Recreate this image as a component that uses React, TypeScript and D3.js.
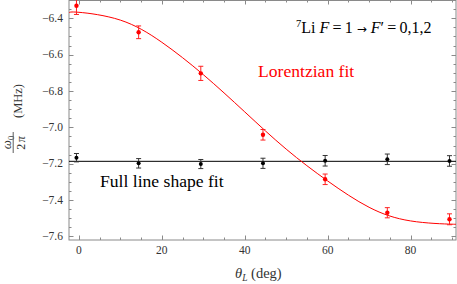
import React from "react";
import * as d3 from "d3";

const angles = [-0.6, 14.4, 29.4, 44.4, 59.4, 74.4, 89.4];
const lorentzValues = [-6.331, -6.477, -6.703, -7.041, -7.286, -7.47, -7.506];
const lorentzErrors = [0.048, 0.035, 0.039, 0.029, 0.029, 0.028, 0.03];
const fullValues = [-7.167, -7.198, -7.202, -7.198, -7.184, -7.176, -7.185];
const fullErrors = [0.023, 0.026, 0.025, 0.028, 0.029, 0.029, 0.029];
const fullFitValue = -7.187;
const fitAngles = [-2.4, 0, 10, 20, 30, 40, 50, 60, 70, 80, 90, 91];
const fitValues = [-6.37, -6.367, -6.41, -6.532, -6.71, -6.915, -7.12, -7.295, -7.44, -7.515, -7.533, -7.533];
const xTicks = [0, 20, 40, 60, 80];
const yTicks = [-6.4, -6.6, -6.8, -7.0, -7.2, -7.4, -7.6];

const W = 457, H = 284;
const L = 69, R = 456, T = 0, B = 240;
const FRAME = "#8a8a8a";
const LABEL = "#333";
const SERIF = "'Liberation Serif', 'Times New Roman', serif";
const serif = { fontFamily: SERIF };

export default function App() {
  const x = d3.scaleLinear().domain([-2.4, 90.97]).range([L, R]);
  const y = d3.scaleLinear().domain([-7.62, -6.2993]).range([B, T]);
  const xMinor = d3.range(0, 91, 5);
  const yMinor = d3.range(-7.6, -6.29, 0.05);
  const line = d3
    .line<number>()
    .x((_, i) => x(fitAngles[i]))
    .y((d) => y(d))
    .curve(d3.curveNatural);
  const fmt = (v: number) => (v < 0 ? "\u2212" : "") + Math.abs(v).toFixed(1);

  const points = (vals: number[], errs: number[], color: string, barColor: string, r: number) =>
    vals.map((v, i) => {
      const cx = x(angles[i]);
      const y1 = y(v + errs[i]);
      const y2 = y(v - errs[i]);
      return (
        <g key={i}>
          <line x1={cx} x2={cx} y1={y1} y2={y2} stroke={barColor} strokeWidth={1} />
          <line x1={cx - 2.5} x2={cx + 2.5} y1={y1} y2={y1} stroke={barColor} strokeWidth={1} />
          <line x1={cx - 2.5} x2={cx + 2.5} y1={y2} y2={y2} stroke={barColor} strokeWidth={1} />
          <circle cx={cx} cy={y(v)} r={r} fill={color} />
        </g>
      );
    });

  return (
    <svg width={W} height={H} style={{ position: "absolute", left: 0, top: 0, background: "#fff", fontFamily: SERIF }}>
      <defs>
        <clipPath id="plotclip">
          <rect x={L} y={T} width={R - L} height={B - T} />
        </clipPath>
      </defs>
      <rect x={0} y={0} width={W} height={H} fill="#fff" />
      {/* frame */}
      <rect x={L} y={T + 0.5} width={R - L} height={B - T - 0.5} fill="none" stroke={FRAME} strokeWidth={1} />
      {/* ticks */}
      {xMinor.map((t) => {
        const major = t % 20 === 0;
        const len = major ? 4.5 : 2.5;
        const px = Math.round(x(t)) + 0.5;
        return (
          <g key={"xt" + t}>
            <line x1={px} x2={px} y1={B} y2={B - len} stroke={FRAME} />
            <line x1={px} x2={px} y1={T} y2={T + len} stroke={FRAME} />
          </g>
        );
      })}
      {yMinor.map((t, i) => {
        const major = i % 4 === 0;
        const len = major ? 4.5 : 2.5;
        const py = Math.round(y(t)) + 0.5;
        return (
          <g key={"yt" + i}>
            <line x1={L} x2={L + len} y1={py} y2={py} stroke={FRAME} />
            <line x1={R} x2={R - len} y1={py} y2={py} stroke={FRAME} />
          </g>
        );
      })}
      {xTicks.map((t) => (
        <text key={"xl" + t} x={x(t)} y={254} fontSize={11.5} textAnchor="middle" fill={LABEL} style={serif}>
          {t}
        </text>
      ))}
      {yTicks.map((t) => (
        <text key={"yl" + t} x={63} y={y(t) + 3.8} fontSize={11.5} textAnchor="end" fill={LABEL} style={serif}>
          {fmt(t)}
        </text>
      ))}
      {/* data */}
      <g clipPath="url(#plotclip)">
        <line x1={L} x2={R} y1={y(fullFitValue)} y2={y(fullFitValue)} stroke="#000" strokeWidth={1} />
        <path d={line(fitValues) || ""} fill="none" stroke="#ff0000" strokeWidth={1} />
        {points(fullValues, fullErrors, "#000", "#333", 2)}
        {points(lorentzValues, lorentzErrors, "#ff0000", "#ff2020", 2.2)}
      </g>
      {/* annotations */}
      <text x={296} y={33} fontSize={16} fill="#000" style={serif}>
        <tspan fontSize={10.5} dy={-6.5}>7</tspan>
        <tspan dy={6.5}>Li </tspan>
        <tspan fontStyle="italic">F</tspan>
        <tspan>{"\u2009=\u20091 "}</tspan>
        <tspan style={{ fontFamily: "'DejaVu Sans', sans-serif" }} fontSize={12}>{"\u2192"}</tspan>
        <tspan> </tspan>
        <tspan fontStyle="italic">F</tspan>
        <tspan>{"\u2032\u2009=\u20090,1,2"}</tspan>
      </text>
      <text x={258} y={77} fontSize={17.6} fill="#ff0000" style={serif}>Lorentzian fit</text>
      <text x={100} y={187} fontSize={17.6} fill="#000" style={serif}>Full line shape fit</text>
      {/* x label */}
      <text x={235} y={278} fontSize={14.5} fill={LABEL} style={serif}>
        <tspan fontStyle="italic">θ</tspan>
        <tspan fontSize={9.5} fontStyle="italic" dy={3}>L</tspan>
        <tspan dy={-3}> (deg)</tspan>
      </text>
      {/* y label */}
      <g transform="rotate(-90)" style={serif}>
        <text x={-101} y={22} fontSize={12.5} textAnchor="middle" fill={LABEL}>(MHz)</text>
        <text x={-142.5} y={11} fontSize={13} textAnchor="middle" fill={LABEL}>
          <tspan fontStyle="italic">ω</tspan>
          <tspan fontSize={8.5} dy={2.5}>0</tspan>
        </text>
        <line x1={-153} x2={-132} y1={13.2} y2={13.2} stroke={LABEL} strokeWidth={0.8} />
        <text x={-143} y={25} fontSize={12} textAnchor="middle" fill={LABEL}>
          <tspan>2</tspan>
          <tspan fontStyle="italic" dx={1.5}>π</tspan>
        </text>
      </g>
    </svg>
  );
}
